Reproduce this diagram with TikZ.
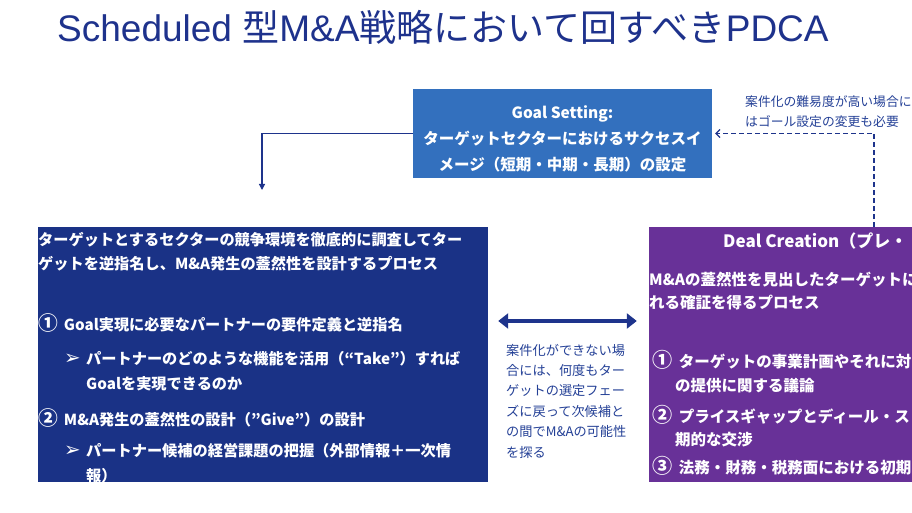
\documentclass[tikz,border=0pt]{standalone}
\usepackage{fontspec}
\usepackage{tikz}
\setmainfont{Liberation Sans}
\newfontfamily\jp{Noto Sans CJK JP}
\newfontfamily\dv{DejaVu Sans}
\usetikzlibrary{arrows.meta}

\definecolor{titleblue}{RGB}{30,50,140}
\definecolor{goalblue}{RGB}{51,112,190}
\definecolor{planblue}{RGB}{26,50,134}
\definecolor{dealpurple}{RGB}{104,49,152}
\definecolor{noteblue}{RGB}{36,64,150}
\definecolor{linkblue}{RGB}{30,52,140}

\newcommand{\circno}[1]{\raisebox{-0.06em}{\scalebox{1.3}{#1}}}
\newcommand{\pointer}{\makebox[22pt][l]{\scalebox{1.3}{\dv ➢}}}

\tikzset{
    box/.style={draw=none, inner sep=0pt},
    boxtext/.style={text=white, inner sep=0pt, anchor=base west, align=left},
    note/.style={text=noteblue, inner sep=0pt, anchor=base west, align=left},
    link/.style={draw=linkblue, line width=1.2pt},
    swaparrow/.style={draw=linkblue, line width=4.5pt,
        {Triangle[length=10pt,width=15pt]}-{Triangle[length=10pt,width=15pt]}},
}

\begin{document}
\begin{tikzpicture}[x=1pt,y=-1pt]
            \useasboundingbox (0,0) rectangle (912,513);
            \node [anchor=west, inner sep=0pt, text=titleblue,
                font=\fontsize{37}{40}\selectfont] (title) at (57,27)
                {Scheduled {\jp 型}M\&A{\jp 戦略において回すべき}PDCA};
            \node [box, fill=goalblue, minimum width=299pt, minimum height=89pt,
                text=white, align=center,
                font=\jp\bfseries\fontsize{15.5}{26}\selectfont] (goal) at (562.5,133.5)
                {\rule{0pt}{24pt}Goal Setting:\\ターゲットセクターにおけるサクセスイ\\メージ（短期・中期・長期）の設定};
            \node [note, font=\jp\fontsize{12.8}{20}\selectfont] (goalnote) at (745,126.5)
                {案件化の難易度が高い場合に\\はゴール設定の変更も必要};
            \node [box, fill=planblue, minimum width=450pt, minimum height=255pt] (plan) at (263,354.5) {};
            \node [box, fill=dealpurple, minimum width=320pt, minimum height=255pt] (deal) at (809,354.5) {};
            \begin{scope}
                \clip (plan.south west) rectangle (plan.north east);
                \node [boxtext, font=\jp\bfseries\fontsize{15.2}{23.5}\selectfont] (planlead) at (38,269)
                    {ターゲットとするセクターの競争環境を徹底的に調査してター\\ゲットを逆指名し、M\&A発生の蓋然性を設計するプロセス};
                \node [boxtext, font=\jp\bfseries\fontsize{15.2}{25}\selectfont] (planone) at (38,330)
                    {\circno{①}\hspace{6pt}Goal実現に必要なパートナーの要件定義と逆指名};
                \node [boxtext, font=\jp\bfseries\fontsize{15.2}{25}\selectfont] (plantake) at (64,389)
                    {\pointer パートナーのどのような機能を活用（“Take”）すれば\\\hspace*{22pt}Goalを実現できるのか};
                \node [boxtext, font=\jp\bfseries\fontsize{15.2}{25}\selectfont] (plantwo) at (38,425)
                    {\circno{②}\hspace{6pt}M\&A発生の蓋然性の設計（”Give”）の設計};
                \node [boxtext, font=\jp\bfseries\fontsize{15.2}{25}\selectfont] (plangive) at (64,481)
                    {\pointer パートナー候補の経営課題の把握（外部情報＋一次情\\\hspace*{22pt}報）};
            \end{scope}
            \node [boxtext, font=\jp\bfseries\fontsize{17}{20}\selectfont] (dealtitle) at (723,247)
                {Deal Creation（プレ・};
            \node [boxtext, font=\jp\bfseries\fontsize{15.5}{23}\selectfont] (deallead) at (649,308.5)
                {M\&Aの蓋然性を見出したターゲットに\\れる確証を得るプロセス};
            \node [boxtext, font=\jp\bfseries\fontsize{15.5}{24}\selectfont] (dealone) at (652,391)
                {\circno{①}\hspace{6.5pt}ターゲットの事業計画やそれに対\\\hspace*{23pt}の提供に関する議論};
            \node [boxtext, font=\jp\bfseries\fontsize{15.5}{23}\selectfont] (dealtwo) at (652,445)
                {\circno{②}\hspace{6.5pt}プライスギャップとディール・ス\\\hspace*{23pt}期的な交渉};
            \node [boxtext, font=\jp\bfseries\fontsize{15.5}{23}\selectfont] (dealthree) at (652,473)
                {\circno{③}\hspace{6.5pt}法務・財務・税務面における初期};
            \node [note, font=\jp\fontsize{13.2}{20.4}\selectfont] (swapnote) at (506,457)
                {案件化ができない場\\合には、何度もター\\ゲットの選定フェー\\ズに戻って次候補と\\の間でM\&Aの可能性\\を探る};
            \coordinate (planin) at (262,190);
            \coordinate (dealout) at (874,227);
            \draw [link, -{Triangle[length=6pt,width=6pt]}] (goal.west) -| (planin);
            \draw [link, dash pattern=on 5pt off 3pt, shorten >=3pt,
                -{Straight Barb[length=4pt,width=8pt]}] (dealout) |- (goal.east);
            \draw [swaparrow, shorten <=10pt, shorten >=12pt]
                ([yshift=33.5pt]plan.east) -- ([yshift=33.5pt]deal.west);
        \end{tikzpicture}
\end{document}
